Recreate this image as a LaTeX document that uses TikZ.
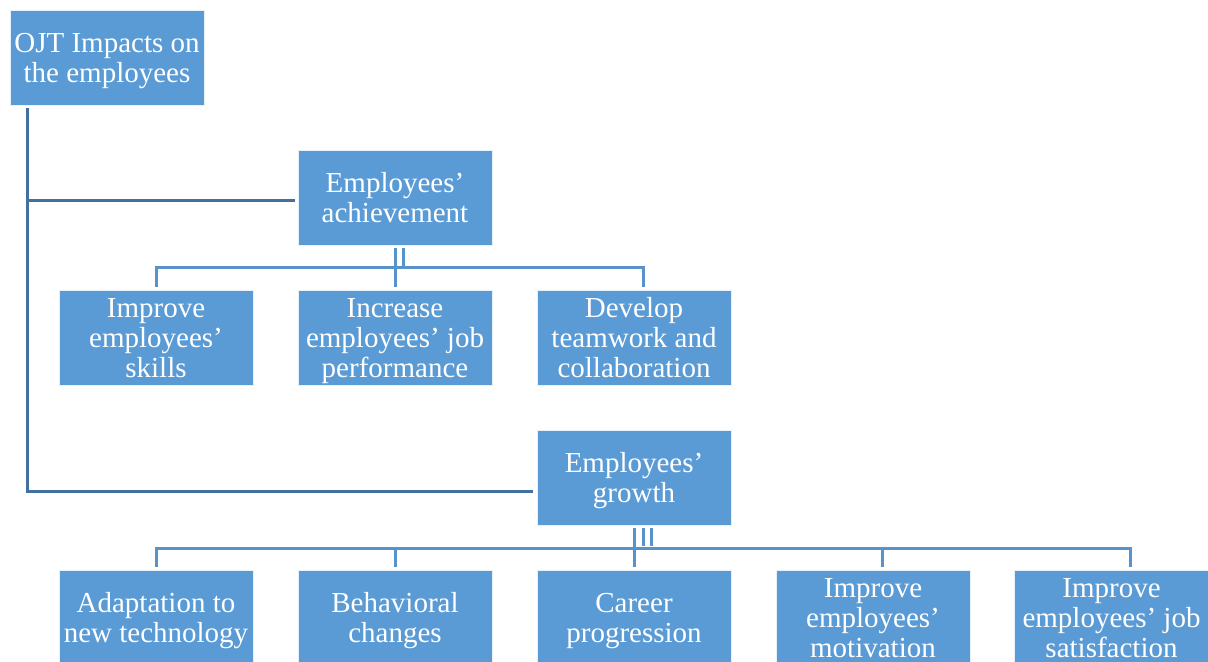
\documentclass[tikz,border=0pt]{standalone}
\usepackage{fontspec}
\setmainfont{Liberation Serif}
\usetikzlibrary{positioning}

\definecolor{boxblue}{HTML}{5B9BD5}
\definecolor{rootblue}{HTML}{41719C}
\definecolor{linkblue}{HTML}{5893CB}

\begin{document}
\begin{tikzpicture}[
            x=0.5pt, y=0.5pt,
            every node/.style={align=center, fill=boxblue, draw=white!85!boxblue, line width=0.4pt,
                minimum width=97pt, minimum height=47.5pt, inner sep=0pt, text=white, text depth=0pt,
                font=\fontsize{14.5}{15}\selectfont},
            rootline/.style={draw=rootblue, line width=1.5pt},
            branch/.style={draw=linkblue, line width=1.5pt, shorten <=1.5pt, shorten >=1.5pt}
            ]
            \useasboundingbox (0,0) rectangle (1208,-661);
            \node (root) at (107,-57.5) {OJT Impacts on\\the employees};
            \node (ach) at (395,-197.5) {Employees’\\achievement};
            \node (a1) at (156,-337.5) {Improve\\employees’\\skills};
            \node (a2) at (395,-337.5) {Increase\\employees’ job\\performance};
            \node (a3) at (634,-337.5) {Develop\\teamwork and\\collaboration};
            \node (grw) at (634,-477.5) {Employees’\\growth};
            \node (g1) at (156,-617.5) {Adaptation to\\new technology};
            \node (g2) at (395,-617.5) {Behavioral\\changes};
            \node (g3) at (634,-617.5) {Career\\progression};
            \node (g4) at (873,-617.5) {Improve\\employees’\\motivation};
            \node (g5) at (1111.5,-617.5) {Improve\\employees’ job\\satisfaction};

            % root to the two groups
            \draw[rootline, shorten <=1.5pt, shorten >=1.5pt] ([xshift=9pt]root.south west) |- ([yshift=-1.25pt]ach.west);
            \draw[rootline, shorten <=1.5pt, shorten >=2pt] ([xshift=9pt]root.south west) |- ([yshift=-6.75pt]grw.west);

            % achievement
            \draw[branch] (ach.south) -- (a2.north);
            \draw[branch, shorten >=0pt] ([xshift=4pt]ach.south) -- ++(0,-23);
            \draw[branch] (a1.north) -- ++(0,22) -| ([xshift=4.5pt]a3.north);

            % growth
            \draw[branch] (grw.south) -- (g3.north);
            \draw[branch, shorten >=0pt] ([xshift=4.5pt]grw.south) -- ++(0,-21);
            \draw[branch, shorten >=0pt] ([xshift=8.5pt]grw.south) -- ++(0,-21);
            \draw[branch] (g1.north) -- ++(0,21) -| ([xshift=9.25pt]g5.north);
            \draw[branch, shorten <=0pt] (g2.north) ++(0,21) -- (g2.north);
            \draw[branch, shorten <=0pt] ([xshift=4.5pt]g4.north) ++(0,21) -- ([xshift=4.5pt]g4.north);
\end{tikzpicture}
\end{document}
